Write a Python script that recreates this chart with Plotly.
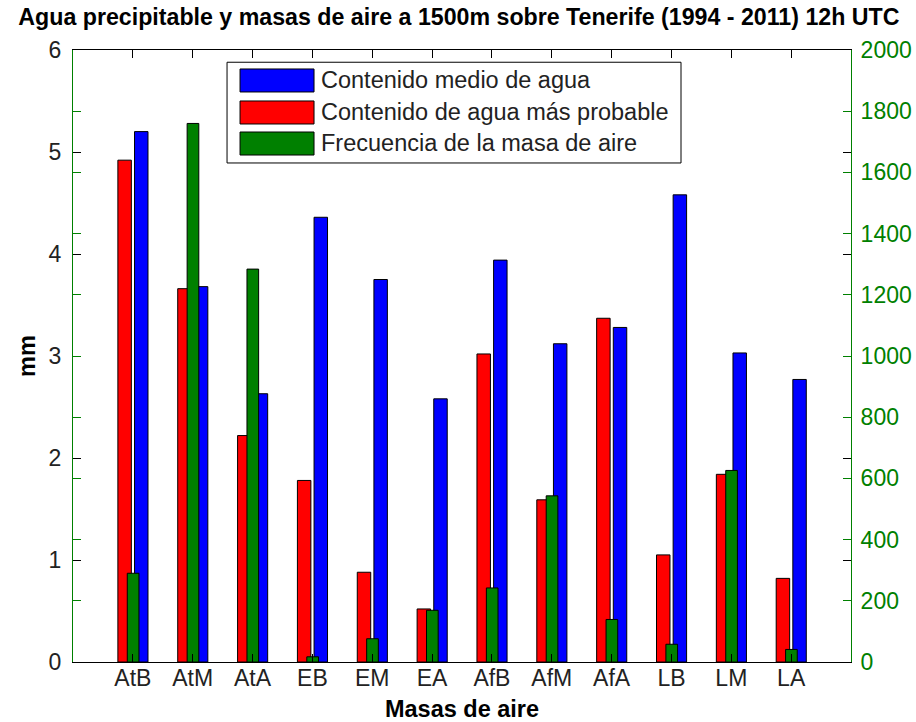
import plotly.graph_objects as go

# ── datos ──
masas = ["AtB", "AtM", "AtA", "EB", "EM", "EA", "AfB", "AfM", "AfA", "LB", "LM", "LA"]
agua_media = [5.20, 3.68, 2.63, 4.36, 3.75, 2.58, 3.94, 3.12, 3.28, 4.58, 3.03, 2.77]
agua_probable = [4.92, 3.66, 2.22, 1.78, 0.88, 0.52, 3.02, 1.59, 3.37, 1.05, 1.84, 0.82]
frecuencia = [290, 1760, 1284, 17, 76, 169, 242, 543, 139, 58, 626, 41]

nombres = ["Contenido medio de agua", "Contenido de agua más probable", "Frecuencia de la masa de aire"]
colores = ["#0000ff", "#ff0000", "#008000"]

FONT = "Liberation Sans, Arial, sans-serif"
GREEN = "#008000"

fig = go.Figure()

# barras rojas (izquierda) y azules (derecha) en eje mm
fig.add_trace(go.Bar(
    x=masas, y=agua_probable, name=nombres[1],
    marker=dict(color=colores[1], line=dict(color="black", width=1)),
    offset=-0.25, width=0.225, showlegend=False,
))
fig.add_trace(go.Bar(
    x=masas, y=agua_media, name=nombres[0],
    marker=dict(color=colores[0], line=dict(color="black", width=1)),
    offset=0.028, width=0.225, showlegend=False,
))
# barras verdes (frecuencia) en eje derecho, encima
fig.add_trace(go.Bar(
    x=masas, y=frecuencia, name=nombres[2], yaxis="y2",
    marker=dict(color=colores[2], line=dict(color="black", width=1)),
    offset=-0.093, width=0.195, showlegend=False,
))

# ── leyenda manual (estilo MATLAB) ──
shapes = [dict(type="rect", xref="paper", yref="paper",
               x0=0.198, x1=0.7815, y0=0.8154, y1=0.980,
               line=dict(color="black", width=1), fillcolor="white", layer="above")]
annotations = []
filas = [(0.9690, 0.9314, 0.9502), (0.9167, 0.8791, 0.8979), (0.8660, 0.8284, 0.8480)]
for nombre, color, (y1, y0, yc) in zip(nombres, colores, filas):
    shapes.append(dict(type="rect", xref="paper", yref="paper",
                       x0=0.2147, x1=0.3098, y0=y0, y1=y1,
                       line=dict(color="black", width=1), fillcolor=color, layer="above"))
    annotations.append(dict(xref="paper", yref="paper", x=0.316, y=yc,
                            text=nombre, showarrow=False, xanchor="left", yanchor="middle",
                            font=dict(family=FONT, size=23.5, color="#222222")))

fig.update_layout(
    width=916, height=722,
    margin=dict(l=73, r=65, t=50, b=60, autoexpand=False),
    paper_bgcolor="white", plot_bgcolor="white",
    barmode="overlay",
    font=dict(family=FONT, size=23, color="black"),
    title=dict(
        text="<b>Agua precipitable y masas de aire a 1500m sobre Tenerife (1994 - 2011) 12h UTC</b>",
        x=0.501, xanchor="center", y=0.976, yanchor="middle",
        font=dict(family=FONT, size=23.2, color="black"),
    ),
    xaxis=dict(
        range=[-1, 12], showline=True, linecolor="black", linewidth=1, mirror="ticks",
        ticks="inside", ticklen=8, tickcolor="black", showgrid=False, automargin=False,
        tickfont=dict(size=23, color="#222222"), ticklabelstandoff=-5,
        title=dict(text="<b>Masas de aire</b>", font=dict(size=23.5), standoff=12),
    ),
    yaxis=dict(
        range=[0, 6], dtick=1, showline=True, linecolor=GREEN, linewidth=1, mirror="ticks",
        ticks="inside", ticklen=8, tickcolor="black", showgrid=False, zeroline=False,
        automargin=False,
        tickfont=dict(size=23, color="#222222"), ticklabelstandoff=6,
        title=dict(text="<b>mm</b>", font=dict(size=23.5), standoff=6),
    ),
    yaxis2=dict(
        range=[0, 2000], dtick=200, overlaying="y", side="right",
        showline=True, linecolor=GREEN, linewidth=1, mirror="ticks",
        ticks="inside", ticklen=8, tickcolor=GREEN, showgrid=False, zeroline=False,
        automargin=False,
        tickfont=dict(size=23, color=GREEN), ticklabelstandoff=4,
    ),
    shapes=shapes,
    annotations=annotations,
)

# sin margen en el body para que la figura ocupe toda la ventana
fig.write_html(
    "out.html",
    config={"displayModeBar": False},
    post_script="document.body.style.margin='0';",
)
